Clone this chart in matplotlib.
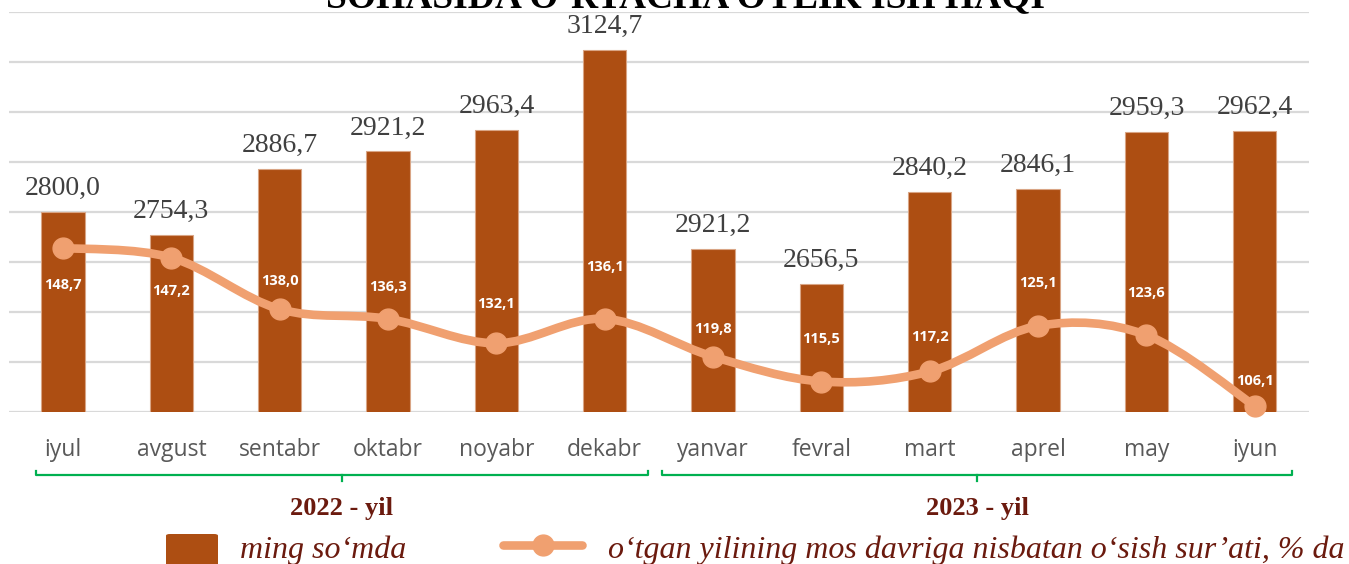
import matplotlib
matplotlib.use('Agg')
import matplotlib.pyplot as plt
import numpy as np
from matplotlib.path import Path
from matplotlib.patches import PathPatch, FancyBboxPatch
from matplotlib.lines import Line2D

# ---------------- data ----------------
months = ['iyul', 'avgust', 'sentabr', 'oktabr', 'noyabr', 'dekabr',
          'yanvar', 'fevral', 'mart', 'aprel', 'may', 'iyun']
# bar heights as drawn in the picture (ming so'mda)
wage_bar = [2800.0, 2754.3, 2886.7, 2921.2, 2963.4, 3124.7,
            2726.0, 2656.5, 2840.2, 2846.1, 2959.3, 2962.4]
wage_labels = ['2800,0', '2754,3', '2886,7', '2921,2', '2963,4', '3124,7',
               '2921,2', '2656,5', '2840,2', '2846,1', '2959,3', '2962,4']
# growth line: positions as drawn (secondary axis units), and printed labels
growth_plot = [148.7, 146.1, 132.2, 129.6, 123.0, 129.6,
               119.4, 112.7, 115.4, 127.7, 125.2, 106.1]
growth_labels = ['148,7', '147,2', '138,0', '136,3', '132,1', '136,1',
                 '119,8', '115,5', '117,2', '125,1', '123,6', '106,1']
years = ['2022 - yil', '2023 - yil']
title = 'SOHASIDA O\u2018RTACHA OYLIK ISH HAQI'
legend_bar = 'ming so\u2018mda'
legend_line = 'o\u2018tgan yilining mos davriga nisbatan o\u2018sish sur\u2019ati, % da'

# ---------------- style ----------------
W, H = 1349, 564
BAR = '#AD4E12'
LINE = '#F0A070'
DARKRED = '#6B1A0E'
GREEN = '#00B050'
label_offsets_px = [37, 33, -28, -32, -39, -52, -28, -43, -34, -43, -42, -25]

def fx(px):
    return px / W

def fy(py):
    return 1 - py / H

fig = plt.figure(figsize=(W / 100, H / 100), dpi=100)
ax = fig.add_axes([fx(8.8), fy(412), (1309 - 8.8) / W, 400 / H])
x = np.arange(len(months))

ax.bar(x, wage_bar, width=0.4, color=BAR, edgecolor='#D9A585', linewidth=0.8, zorder=2)
ax.set_ylim(2400, 3200)
ax.set_xlim(-0.5, len(months) - 0.5)
ax.set_yticks(np.arange(2400, 3201, 100))
ax.yaxis.grid(True, color='#D9D9D9', linewidth=1.6)
ax.set_axisbelow(True)
ax.set_xticks(x)
ax.set_xticklabels(months, fontsize=16.5, family='Open Sans', color='#595959', va='baseline')
for s in ax.spines.values():
    s.set_visible(False)

for xi, v, lab in zip(x, wage_bar, wage_labels):
    ax.annotate(lab, (xi, v), xytext=(0, 12.2), textcoords='offset points',
                ha='center', va='baseline', fontsize=20, family='Liberation Serif',
                color='#404040', annotation_clip=False)

# secondary axis for growth line
ax2 = ax.twinx()
ax2.set_ylim(104.48, 104.48 + 400 / 3.709)
ax2.axis('off')
ax.tick_params(axis='y', left=False, right=False, labelleft=False, labelright=False)
ax.tick_params(axis='x', length=0, pad=31.5)

P = np.column_stack([x, np.array(growth_plot, dtype=float)])
verts = [P[0]]
codes = [Path.MOVETO]
n = len(P)
for i in range(n - 1):
    p0 = P[i - 1] if i > 0 else P[i]
    p3 = P[i + 2] if i + 2 < n else P[i + 1]
    c1 = P[i] + (P[i + 1] - p0) / 6
    c2 = P[i + 1] - (p3 - P[i]) / 6
    verts += [c1, c2, P[i + 1]]
    codes += [Path.CURVE4] * 3
ax2.add_patch(PathPatch(Path(verts, codes), facecolor='none', edgecolor=LINE,
                        lw=6.2, capstyle='round', joinstyle='round', zorder=3))
ax2.plot(x, growth_plot, ls='none', marker='o', ms=15, color=LINE, zorder=4, clip_on=False)
for xi, v, lab, off in zip(x, growth_plot, growth_labels, label_offsets_px):
    ax2.annotate(lab, (xi, v), xytext=(0, -off * 0.72), textcoords='offset points',
                 ha='center', va='center', fontsize=10.5, family='Open Sans',
                 fontweight='bold', color='white', zorder=5, annotation_clip=False)

# title (cut off at top, as in the reference)
fig.text(fx(685), fy(8), title, ha='center', va='baseline', fontsize=27,
         family='Liberation Serif', fontweight='bold', color='black')

# brackets
def bracket(x0, x1, xm):
    fig.add_artist(Line2D([fx(x0), fx(x0), fx(x1), fx(x1)],
                          [fy(470.5), fy(475), fy(475), fy(470.5)],
                          color=GREEN, lw=1.6, solid_joinstyle='round'))
    fig.add_artist(Line2D([fx(xm), fx(xm)], [fy(475), fy(481)], color=GREEN, lw=1.6))

bracket(36, 648, 342)
bracket(662, 1292, 977)
fig.text(fx(342), fy(515), years[0], ha='center', va='baseline', fontsize=19,
         family='Liberation Serif', fontweight='bold', color=DARKRED)
fig.text(fx(977), fy(515), years[1], ha='center', va='baseline', fontsize=19,
         family='Liberation Serif', fontweight='bold', color=DARKRED)

# legend
fig.add_artist(FancyBboxPatch((fx(166), fy(570)), fx(218) - fx(166), fy(534) - fy(570),
                              boxstyle='round,pad=0,rounding_size=0.003',
                              facecolor=BAR, edgecolor='none', transform=fig.transFigure))
fig.text(fx(240), fy(558), legend_bar, ha='left', va='baseline', fontsize=23,
         family='Liberation Serif', style='italic', color=DARKRED)
fig.add_artist(Line2D([fx(503), fx(582)], [fy(545), fy(545)], color=LINE, lw=6.2,
                      solid_capstyle='round'))
fig.add_artist(Line2D([fx(543)], [fy(545)], color=LINE, marker='o', ms=15, ls='none'))
fig.text(fx(608), fy(558), legend_line, ha='left', va='baseline', fontsize=23,
         family='Liberation Serif', style='italic', color=DARKRED)

fig.savefig('out.png', dpi=100)
